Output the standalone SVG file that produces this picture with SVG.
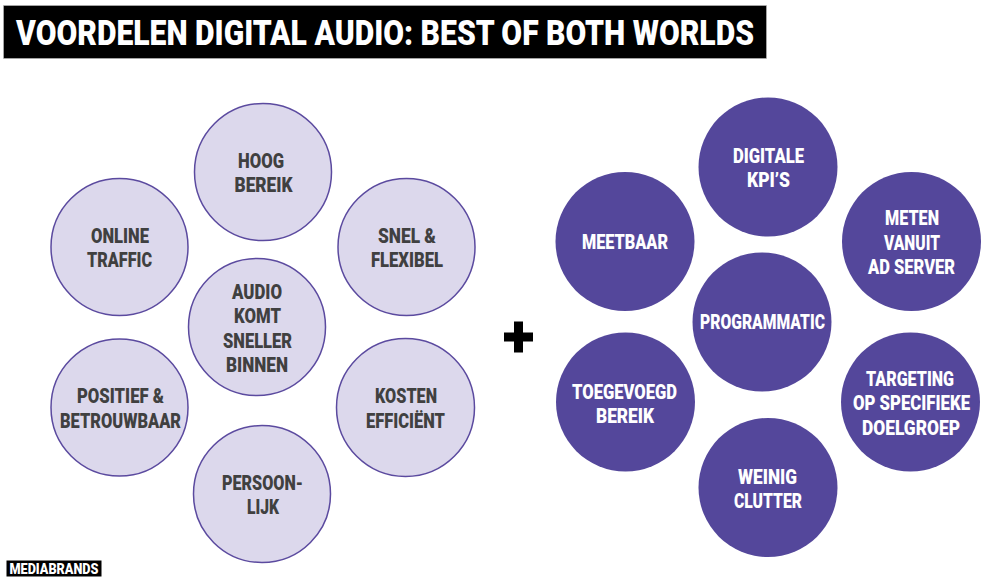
<svg xmlns="http://www.w3.org/2000/svg" width="992" height="585" viewBox="0 0 992 585">
<style>
text{font-family:"Roboto","Liberation Sans",sans-serif;font-weight:900;text-anchor:middle}
.l circle{fill:#dcd8ec;stroke:#5b4a9f;stroke-width:1.500}
.l text{fill:#404040;font-size:20.500px}
.r circle{fill:#54479b}
.r text{fill:#fff;font-size:20.500px}
</style>
<rect width="992" height="585" fill="#fff"/>
<g id="title"><rect x="3.500" y="5.500" width="763" height="53" fill="#000" stroke="#bbb" stroke-width="0.600"/>
<text x="385" y="45" font-size="35" fill="#fff" textLength="738" lengthAdjust="spacingAndGlyphs">VOORDELEN DIGITAL AUDIO: BEST OF BOTH WORLDS</text></g>
<g id="n-hoog" class="l"><circle cx="263" cy="172" r="68.500"/><text x="261" y="168" textLength="46" lengthAdjust="spacingAndGlyphs">HOOG</text><text x="263.500" y="192" textLength="58" lengthAdjust="spacingAndGlyphs">BEREIK</text></g>
<g id="n-online" class="l"><circle cx="119.500" cy="247" r="68.500"/><text x="120" y="243" textLength="58" lengthAdjust="spacingAndGlyphs">ONLINE</text><text x="119.500" y="267" textLength="65" lengthAdjust="spacingAndGlyphs">TRAFFIC</text></g>
<g id="n-snel" class="l"><circle cx="406.500" cy="247" r="68.500"/><text x="407" y="243" textLength="58" lengthAdjust="spacingAndGlyphs">SNEL &amp;</text><text x="407" y="267" textLength="72" lengthAdjust="spacingAndGlyphs">FLEXIBEL</text></g>
<g id="n-audio" class="l"><circle cx="257" cy="327" r="68.500"/><text x="257" y="298.500" textLength="50" lengthAdjust="spacingAndGlyphs">AUDIO</text><text x="257.500" y="323" textLength="47" lengthAdjust="spacingAndGlyphs">KOMT</text><text x="257.500" y="347.500" textLength="69" lengthAdjust="spacingAndGlyphs">SNELLER</text><text x="257" y="372" textLength="62" lengthAdjust="spacingAndGlyphs">BINNEN</text></g>
<g id="n-positief" class="l"><circle cx="119.500" cy="407.500" r="68.500"/><text x="120.500" y="403" textLength="87" lengthAdjust="spacingAndGlyphs">POSITIEF &amp;</text><text x="120.500" y="428" textLength="121" lengthAdjust="spacingAndGlyphs">BETROUWBAAR</text></g>
<g id="n-kosten" class="l"><circle cx="405.500" cy="407.500" r="69"/><text x="406" y="403" textLength="62" lengthAdjust="spacingAndGlyphs">KOSTEN</text><text x="405.500" y="428" textLength="79" lengthAdjust="spacingAndGlyphs">EFFICIËNT</text></g>
<g id="n-persoon" class="l"><circle cx="262" cy="494" r="68.500"/><text x="262.500" y="490" textLength="81" lengthAdjust="spacingAndGlyphs">PERSOON-</text><text x="263" y="514" textLength="32" lengthAdjust="spacingAndGlyphs">LIJK</text></g>
<path id="plus" d="M514 321.500h9v11h10v9h-10v11h-9v-11h-10v-9h10z" fill="#000"/>
<g id="n-digitale" class="r"><circle cx="768" cy="167" r="69.500"/><text x="768.500" y="163" textLength="71" lengthAdjust="spacingAndGlyphs">DIGITALE</text><text x="768.500" y="187" textLength="43" lengthAdjust="spacingAndGlyphs">KPI’S</text></g>
<g id="n-meetbaar" class="r"><circle cx="625" cy="241.500" r="69.500"/><text x="625" y="249" textLength="86" lengthAdjust="spacingAndGlyphs">MEETBAAR</text></g>
<g id="n-meten" class="r"><circle cx="911.500" cy="241.500" r="69.500"/><text x="912" y="225" textLength="54" lengthAdjust="spacingAndGlyphs">METEN</text><text x="912" y="249.500" textLength="56" lengthAdjust="spacingAndGlyphs">VANUIT</text><text x="911.500" y="274" textLength="87" lengthAdjust="spacingAndGlyphs">AD SERVER</text></g>
<g id="n-programmatic" class="r"><circle cx="762" cy="322" r="69.500"/><text x="762.500" y="329" textLength="125" lengthAdjust="spacingAndGlyphs">PROGRAMMATIC</text></g>
<g id="n-toegevoegd" class="r"><circle cx="625.500" cy="402" r="69.500"/><text x="624.500" y="398.500" textLength="105" lengthAdjust="spacingAndGlyphs">TOEGEVOEGD</text><text x="625" y="423" textLength="58" lengthAdjust="spacingAndGlyphs">BEREIK</text></g>
<g id="n-targeting" class="r"><circle cx="910.500" cy="402" r="69.500"/><text x="910" y="386" textLength="88" lengthAdjust="spacingAndGlyphs">TARGETING</text><text x="911.500" y="410" textLength="117" lengthAdjust="spacingAndGlyphs">OP SPECIFIEKE</text><text x="911" y="434.500" textLength="98" lengthAdjust="spacingAndGlyphs">DOELGROEP</text></g>
<g id="n-weinig" class="r"><circle cx="768" cy="487.500" r="69.500"/><text x="767.500" y="483.500" textLength="59" lengthAdjust="spacingAndGlyphs">WEINIG</text><text x="768" y="507.500" textLength="68" lengthAdjust="spacingAndGlyphs">CLUTTER</text></g>
<g id="logo"><rect x="6.500" y="560.500" width="95" height="16" fill="#000"/><text x="54" y="573.500" font-size="14" fill="#fff" textLength="89" lengthAdjust="spacingAndGlyphs">MEDIABRANDS</text></g>
<g id="connectors"/>
</svg>
